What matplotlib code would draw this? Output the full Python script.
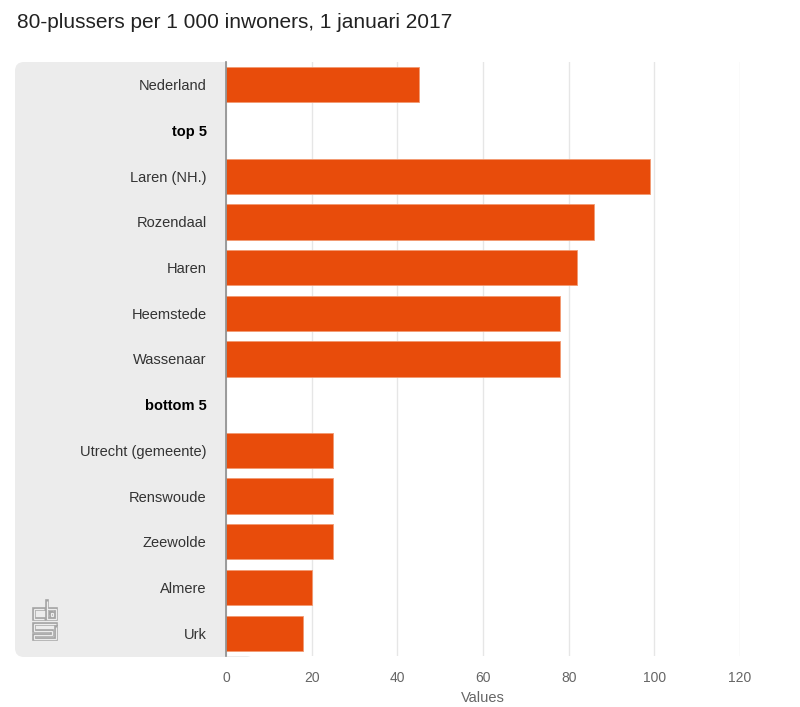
import matplotlib
matplotlib.use("Agg")
import matplotlib.pyplot as plt
from matplotlib.patches import FancyBboxPatch

categories = ["Nederland", "top 5", "Laren (NH.)", "Rozendaal", "Haren", "Heemstede",
              "Wassenaar", "bottom 5", "Utrecht (gemeente)", "Renswoude", "Zeewolde",
              "Almere", "Urk"]
values = [45, None, 99, 86, 82, 78, 78, None, 25, 25, 25, 20, 18]
bold_labels = ["top 5", "bottom 5"]
xticks = [0, 20, 40, 60, 80, 100, 120]
title = "80-plussers per 1 000 inwoners, 1 januari 2017"
bar_color = "#e84c0b"

W, H = 800, 707
plt.rcParams['font.family'] = ['Liberation Sans', 'DejaVu Sans']
fig = plt.figure(figsize=(W / 100, H / 100), dpi=100)

# overlay (pixel coordinates) for background panel and logo
bg = fig.add_axes([0, 0, 1, 1], zorder=-1)
bg.set_xlim(0, W)
bg.set_ylim(H, 0)
bg.axis('off')
panel = FancyBboxPatch((15, 62), 240, 595, boxstyle="round,pad=0,rounding_size=9",
                       facecolor="#ececec", edgecolor="none")
bg.add_patch(panel)

logo_paths = [
    [(44, 609), (34, 609), (34, 619), (44, 619)],
    [(47, 601), (47, 619), (56, 619), (56, 609), (47, 609)],
    [(50.5, 612.5), (53, 612.5), (53, 615.5), (50.5, 615.5), (50.5, 612.5)],
    [(56, 624), (34, 624), (34, 631), (52, 631), (52, 635), (34, 635), (34, 639), (56, 639), (56, 627)],
]
for p in logo_paths:
    xs, ys = zip(*p)
    bg.plot(xs, ys, color="#a3a3a3", lw=2.6, solid_capstyle='projecting',
            solid_joinstyle='miter')
for p in logo_paths:
    xs, ys = zip(*p)
    bg.plot(xs, ys, color="#ececec", lw=0.9, solid_capstyle='butt',
            solid_joinstyle='miter')

ax = fig.add_axes([226 / W, 51 / H, 514 / W, 594 / H])
ax.set_facecolor('white')
n = len(categories)
ypos = list(range(n))
for y, v in zip(ypos, values):
    if v is not None:
        ax.barh(y, v, height=0.77, color=bar_color, edgecolor="#f29a72", linewidth=0.6,
                zorder=3)
ax.set_ylim(n - 0.5, -0.5)
ax.set_xlim(0, 120)
ax.set_yticks(ypos)
ax.set_yticklabels(categories, fontsize=10.5, color="#333333")
for lbl in ax.get_yticklabels():
    if lbl.get_text() in bold_labels:
        lbl.set_fontweight('bold')
        lbl.set_color('#000000')
ax.tick_params(axis='y', length=0, pad=14)
ax.set_xticks(xticks)
ax.set_xticklabels([str(t) for t in xticks], fontsize=10, color="#666666")
ax.tick_params(axis='x', length=0, pad=11)
ax.grid(axis='x', color="#e6e6e6", lw=1, zorder=0)
for s in ['top', 'right', 'bottom']:
    ax.spines[s].set_visible(False)
ax.spines['left'].set_color('#8c8c8c')
ax.spines['left'].set_linewidth(1.2)
ax.spines['left'].set_zorder(4)

fig.text(17 / W, 1 - 22 / H, title, fontsize=15, color="#222222", va='center', ha='left')
fig.text(483 / W, 1 - 698 / H, "Values", fontsize=10.5, color="#666666", ha='center', va='center')

fig.savefig("out.png", dpi=100)
